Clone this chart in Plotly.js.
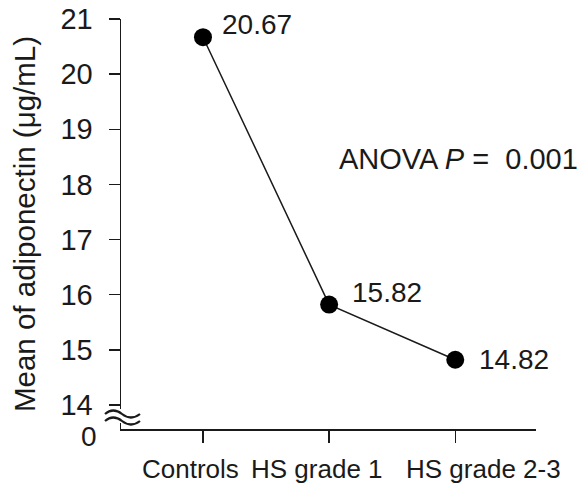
<!DOCTYPE html>
<html>
<head>
<meta charset="utf-8">
<script src="https://cdn.plot.ly/plotly-3.0.1.min.js"></script>
<style>html,body{margin:0;padding:0;background:#fff;}#chart{width:585px;height:484px;}</style>
</head>
<body>
<div id="chart"></div>
<script>
const categories = ["Controls", "HS grade 1", "HS grade 2-3"];
const meanAdiponectin = [20.67, 15.82, 14.82];
const yTickVals = [14, 15, 16, 17, 18, 19, 20, 21];
const yTickText = ["14", "15", "16", "17", "18", "19", "20", "21"];
const yTitle = "Mean of adiponectin (μg/mL)";
const statText = "ANOVA <i>P</i> =  0.001";

const W = 585, H = 484;
const M = {l: 121, r: 49, t: 19, b: 55};
const pw = W - M.l - M.r, ph = H - M.t - M.b;
const px = x => (x - M.l) / pw;
const py = y => (H - M.b - y) / ph;

const FONT = "Liberation Sans, Arial, sans-serif";
const INK = "#1a1a1a";

const labelShift = [[17, 13], [21, 12], [22, 0]];
const annotations = meanAdiponectin.map((v, i) => ({
  x: categories[i], y: v, xref: "x", yref: "y",
  text: v.toFixed(2), showarrow: false,
  xanchor: "left", yanchor: "middle",
  xshift: labelShift[i][0], yshift: labelShift[i][1],
  font: {family: FONT, size: 28, color: INK}
}));
// category labels (offset from tick marks as in the original)
const catShift = [-12.5, -12, 28.5];
categories.forEach((c, i) => annotations.push({
  x: c, y: py(469), xref: "x", yref: "paper",
  text: c, showarrow: false, xanchor: "center", yanchor: "middle",
  xshift: catShift[i],
  font: {family: FONT, size: 26, color: INK}
}));
annotations.push({
  x: px(337), y: py(159), xref: "paper", yref: "paper",
  text: statText, showarrow: false, xanchor: "left", yanchor: "middle",
  font: {family: FONT, size: 29, color: INK}
});
annotations.push({
  x: px(99), y: py(436), xref: "paper", yref: "paper",
  text: "0", showarrow: false, xanchor: "right", yanchor: "middle",
  font: {family: FONT, size: 28, color: INK}
});

function wave(y0) {
  return `M ${px(105)},${py(y0)} Q ${px(113)},${py(y0 - 7)} ${px(122)},${py(y0)} T ${px(140)},${py(y0)}`;
}
const shapes = [
  {type: "rect", xref: "paper", yref: "paper", x0: px(112), x1: px(128), y0: py(423), y1: py(409),
   fillcolor: "#fff", line: {width: 0}, layer: "above"},
  {type: "path", xref: "paper", yref: "paper", path: wave(414), line: {color: INK, width: 2.2}, layer: "above"},
  {type: "path", xref: "paper", yref: "paper", path: wave(421), line: {color: INK, width: 2.2}, layer: "above"}
];

const trace = {
  x: categories, y: meanAdiponectin, type: "scatter", mode: "lines+markers",
  line: {color: INK, width: 1.5},
  marker: {color: "#000", size: 18},
  cliponaxis: false, hoverinfo: "skip"
};

const layout = {
  width: W, height: H,
  margin: M,
  paper_bgcolor: "#fff", plot_bgcolor: "#fff",
  showlegend: false,
  font: {family: FONT, color: INK},
  xaxis: {
    type: "category", range: [-0.65, 2.64],
    showline: true, linecolor: INK, linewidth: 1.5,
    ticks: "outside", ticklen: 12, tickwidth: 1.5, tickcolor: INK,
    showticklabels: false,
    showgrid: false, zeroline: false, automargin: false, fixedrange: true
  },
  yaxis: {
    range: [13.564, 21],
    tickvals: yTickVals, ticktext: yTickText,
    showline: true, linecolor: INK, linewidth: 1.5,
    ticks: "outside", ticklen: 11, tickwidth: 1.5, tickcolor: INK,
    tickfont: {family: FONT, size: 29, color: INK},
    ticklabelstandoff: 10,
    title: {text: yTitle, font: {family: FONT, size: 29.5, color: INK}, standoff: 16},
    showgrid: false, zeroline: false, automargin: false, fixedrange: true
  },
  annotations: annotations,
  shapes: shapes
};

Plotly.newPlot("chart", [trace], layout, {displayModeBar: false, staticPlot: true});
</script>
</body>
</html>
